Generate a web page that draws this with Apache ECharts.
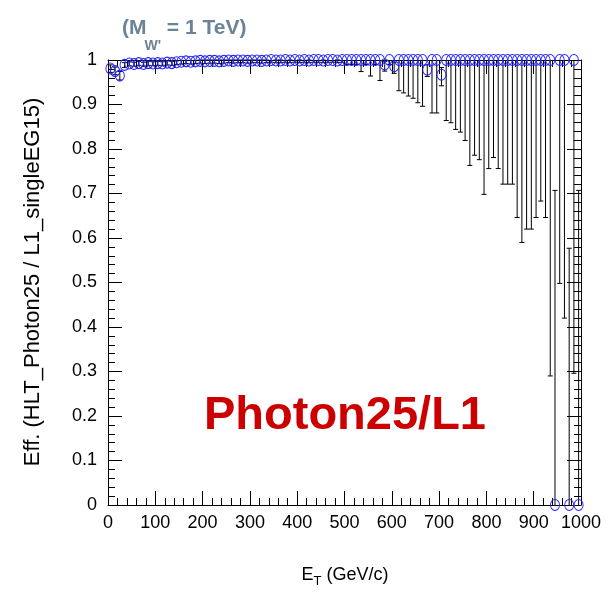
<!DOCTYPE html>
<html><head><meta charset="utf-8">
<script src="https://cdn.jsdelivr.net/npm/echarts@6/dist/echarts.min.js"></script>
<style>html,body{margin:0;padding:0;background:#fff;}#c{width:616px;height:593px;}</style>
</head><body><div id="c"></div>
<script>
// ---- data ----
const binCenters = [
  5,15,25,35,45,55,65,75,85,95,
  105,115,125,135,145,155,165,175,185,195,
  205,215,225,235,245,255,265,275,285,295,
  305,315,325,335,345,355,365,375,385,395,
  405,415,425,435,445,455,465,475,485,495,
  505,515,525,535,545,555,565,575,585,595,
  605,615,625,635,645,655,665,675,685,695,
  705,715,725,735,745,755,765,775,785,795,
  805,815,825,835,845,855,865,875,885,895,
  905,915,925,935,945,955,965,975,985,995
];
const efficiency = [
  0.981,0.975,0.965,0.989,0.992,0.991,0.993,0.991,0.993,0.992,
  0.993,0.992,0.994,0.993,0.995,0.996,0.997,0.996,0.997,0.998,
  0.997,0.998,0.998,0.997,0.998,0.999,0.998,0.999,0.999,0.998,
  0.999,0.999,0.998,0.999,1,0.999,0.999,1,0.999,1,
  0.999,1,0.999,1,1,0.999,1,1,0.999,1,
  1,1,1,1,1,1,1,1,0.99,1,
  0.986,1,1,1,1,1,1,0.978,1,1,
  0.967,1,1,1,1,1,1,1,1,1,
  1,1,1,1,1,1,1,1,1,1,
  1,1,1,1,0,1,1,0,1,0
];
const errLow = [
  0.972,0.967,0.955,0.983,0.987,0.986,0.988,0.986,0.988,0.987,
  0.988,0.987,0.989,0.988,0.990,0.991,0.992,0.991,0.992,0.993,
  0.992,0.993,0.993,0.992,0.993,0.994,0.993,0.994,0.994,0.993,
  0.994,0.994,0.993,0.994,0.995,0.994,0.994,0.995,0.994,0.995,
  0.994,0.995,0.994,0.995,0.995,0.994,0.995,0.995,0.994,0.995,
  0.990,0.990,0.990,0.974,0.990,0.964,0.990,0.954,0.975,0.990,
  0.970,0.931,0.926,0.919,0.914,0.904,0.896,0.963,0.881,0.881,
  0.942,0.864,0.859,0.844,0.838,0.819,0.763,0.786,0.776,0.698,
  0.756,0.781,0.756,0.721,0.721,0.721,0.646,0.590,0.620,0.620,
  0.646,0.683,0.646,0.290,0,0.498,0.420,0,0.296,0
];
const errHigh = [
  0.989,0.984,0.974,0.994,0.996,0.995,0.997,0.995,0.997,0.996,
  0.997,0.996,0.998,0.997,0.998,0.999,0.999,0.999,0.999,1,
  1,1,1,1,1,1,1,1,1,1,
  1,1,1,1,1,1,1,1,1,1,
  1,1,1,1,1,1,1,1,1,1,
  1,1,1,1,1,1,1,1,0.997,1,
  0.995,1,1,1,1,1,1,0.989,1,1,
  0.983,1,1,1,1,1,1,1,1,1,
  1,1,1,1,1,1,1,1,1,1,
  1,1,1,1,0.707,1,1,0.577,1,0.707
];
const yAxisTitle = 'Eff. (HLT_Photon25 / L1_singleEG15)';
const xAxisTitleMain = 'E';
const xAxisTitleSub = 'T';
const xAxisTitleRest = ' (GeV/c)';
const headerMain = '(M';
const headerSub = "W'";
const headerRest = ' = 1 TeV)';
const bigLabel = 'Photon25/L1';

// ---- drawing ----
const FONT = '"Liberation Sans", Arial, Helvetica, sans-serif';
const chart = echarts.init(document.getElementById('c'), null, {renderer: 'canvas'});

const mctx = document.createElement('canvas').getContext('2d');
function tw(text, size, weight) {
  mctx.font = (weight || 'normal') + ' ' + size + 'px ' + FONT;
  return mctx.measureText(text).width;
}

const GRID = {left: 108, right: 35, top: 60, bottom: 88};

function axisCommon(extra) {
  return Object.assign({
    type: 'value',
    axisLine: {show: true, onZero: false, lineStyle: {color: '#000', width: 1}},
    axisTick: {show: true, inside: true, length: 14, lineStyle: {color: '#000', width: 1}},
    minorTick: {show: true, splitNumber: 5, length: 7, lineStyle: {color: '#000', width: 1}},
    splitLine: {show: false},
    minorSplitLine: {show: false}
  }, extra);
}

// header pieces
const hSize = 21, hSub = 14, hColor = '#6b8299';
const hx0 = 122;
const wHM = tw(headerMain, hSize, 'bold');
const wHS = tw(headerSub, hSub, 'bold');
// x title
const xtSize = 18, xtSub = 13;
const wXM = tw(xAxisTitleMain, xtSize), wXS = tw(xAxisTitleSub, xtSub), wXR = tw(xAxisTitleRest, xtSize);
const xtStart = 345 - (wXM + wXS + wXR) / 2;

function txt(x, y, text, size, weight, color) {
  return {
    type: 'text', x: x, y: y, silent: true,
    style: {text: text, fontSize: size, fontWeight: weight || 'normal', fontFamily: FONT,
            fill: color || '#000', align: 'left', verticalAlign: 'middle'}
  };
}

const option = {
  animation: false,
  backgroundColor: '#fff',
  grid: GRID,
  xAxis: [
    axisCommon({min: 0, max: 1000, interval: 100, position: 'bottom',
      axisLabel: {show: true, color: '#000', fontFamily: FONT, fontSize: 18, margin: 9,
        formatter: function (v) { return String(Math.round(v)); }}}),
    axisCommon({min: 0, max: 1000, interval: 100, position: 'top', axisLabel: {show: false}})
  ],
  yAxis: [
    axisCommon({min: 0, max: 1, interval: 0.1, position: 'left',
      axisLabel: {show: true, color: '#000', fontFamily: FONT, fontSize: 18, margin: 11,
        formatter: function (v) {
          if (Math.abs(v) < 1e-9) return '0';
          if (Math.abs(v - 1) < 1e-9) return '1';
          return v.toFixed(1);
        }}}),
    axisCommon({min: 0, max: 1, interval: 0.1, position: 'right', axisLabel: {show: false}})
  ],
  series: [
    {
      type: 'custom',
      xAxisIndex: 0, yAxisIndex: 0,
      silent: true, clip: false, z: 3,
      data: binCenters.map((x, i) => [x, efficiency[i], errLow[i], errHigh[i]]),
      encode: {x: 0, y: 1},
      renderItem: function (params, api) {
        const x = api.value(0), v = api.value(1), lo = api.value(2), hi = api.value(3);
        const pV = api.coord([x, v]), pL = api.coord([x, lo]), pH = api.coord([x, hi]);
        const st = {stroke: '#000', lineWidth: 1};
        const cw = 2.5;
        const ch = [];
        if (lo < v) {
          ch.push({type: 'line', shape: {x1: pV[0], y1: pV[1], x2: pL[0], y2: pL[1]}, style: st});
          ch.push({type: 'line', shape: {x1: pL[0] - cw, y1: pL[1], x2: pL[0] + cw, y2: pL[1]}, style: st});
        }
        if (hi > v) {
          ch.push({type: 'line', shape: {x1: pV[0], y1: pV[1], x2: pH[0], y2: pH[1]}, style: st});
          ch.push({type: 'line', shape: {x1: pH[0] - cw, y1: pH[1], x2: pH[0] + cw, y2: pH[1]}, style: st});
        }
        return {type: 'group', children: ch};
      }
    },
    {
      type: 'scatter',
      xAxisIndex: 0, yAxisIndex: 0,
      silent: true, clip: false, z: 4,
      symbol: 'circle', symbolSize: [9, 11],
      itemStyle: {color: 'rgba(0,0,0,0)', borderColor: '#2222ff', borderWidth: 1, opacity: 1},
      data: binCenters.map((x, i) => [x, efficiency[i]])
    }
  ],
  graphic: [
    txt(hx0, 28, headerMain, hSize, 'bold', hColor),
    txt(hx0 + wHM - 2, 46, headerSub, hSub, 'bold', hColor),
    txt(hx0 + wHM - 2 + wHS, 28, headerRest, hSize, 'bold', hColor),
    txt(xtStart, 575, xAxisTitleMain, xtSize),
    txt(xtStart + wXM, 581, xAxisTitleSub, xtSub),
    txt(xtStart + wXM + wXS, 575, xAxisTitleRest, xtSize),
    {type: 'text', x: 33, y: 282, rotation: Math.PI / 2, silent: true,
     style: {text: yAxisTitle, fontSize: 22, fontFamily: FONT, fill: '#000', align: 'center', verticalAlign: 'middle'}},
    {type: 'text', x: 345, y: 416, silent: true,
     style: {text: bigLabel, fontSize: 47, fontWeight: 'bold', fontFamily: FONT, fill: '#cc0000', align: 'center', verticalAlign: 'middle'}}
  ]
};
chart.setOption(option);
</script>
</body></html>
